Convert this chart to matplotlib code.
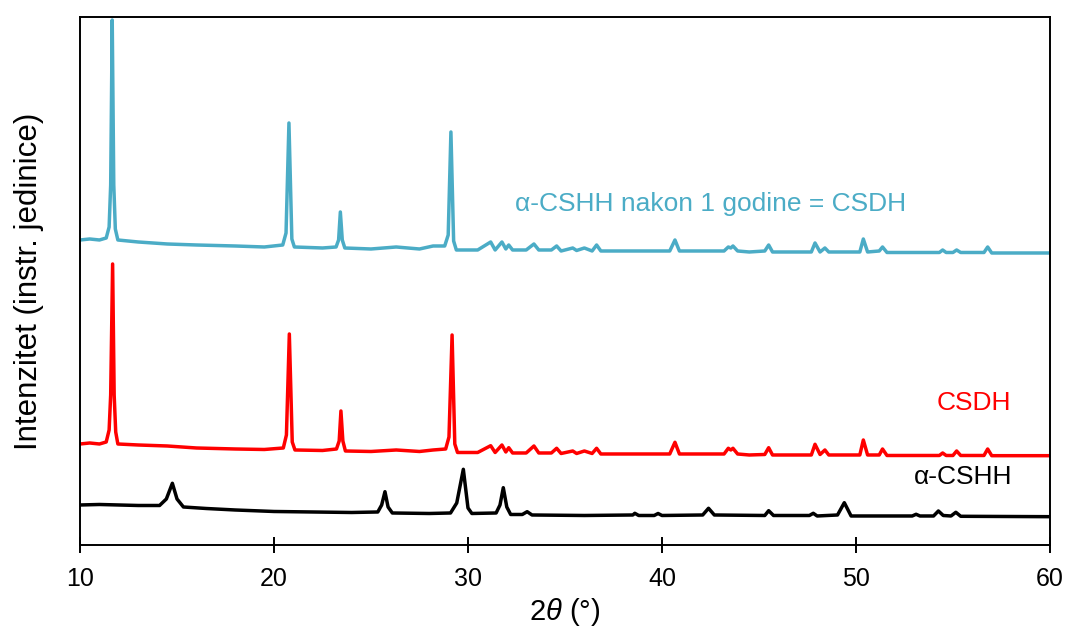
import numpy as np
import matplotlib
matplotlib.use("Agg")
import matplotlib.pyplot as plt

# XRD patterns (2theta in deg, intensity in arb. units incl. stacking offset)
aged_2theta = [10.0, 10.5, 11.0, 11.35, 11.5, 11.58, 11.66, 11.74, 11.82, 11.95, 13.0, 14.5, 16.0,
               18.0, 19.5, 20.45, 20.62, 20.77, 20.92, 21.05, 22.5, 23.2, 23.33, 23.42, 23.52, 23.65,
               25.0, 26.3, 27.5, 28.2, 28.8, 28.98, 29.12, 29.26, 29.4, 30.5, 31.17, 31.4, 31.75,
               31.95, 32.1, 32.3, 33.0, 33.4, 33.65, 34.3, 34.57, 34.8, 35.4, 35.6, 36.0, 36.4,
               36.63, 36.85, 40.4, 40.67, 40.9, 43.2, 43.42, 43.55, 43.66, 43.9, 44.5, 45.3, 45.5,
               45.7, 47.7, 47.89, 48.15, 48.4, 48.6, 50.2, 50.38, 50.6, 51.2, 51.37, 51.6, 54.3,
               54.47, 54.65, 55.0, 55.19, 55.4, 56.6, 56.79, 57.0, 60.0]
aged_int = [305, 306, 305, 307, 318, 360, 525, 360, 316, 305, 303, 301, 300,
            299, 298, 300, 312, 422, 306, 298, 297, 298, 305, 333, 305, 297,
            296, 298, 296, 299, 299, 310, 413, 304, 295, 295, 303, 295, 303,
            296, 300, 295, 295, 301, 295, 295, 299, 294, 297, 294.5, 297, 294,
            300, 294, 294, 305, 294, 294, 298, 297, 299, 294, 293, 294, 300,
            293, 293, 302, 293, 297, 293, 293, 306, 293, 294, 298, 292.5, 292.5,
            295, 292.5, 292.5, 295, 292.5, 292.5, 298, 292, 292]

csdh_2theta = [10.0, 10.5, 11.0, 11.35, 11.5, 11.58, 11.68, 11.76, 11.84, 11.95, 13.0, 14.5, 16.0,
               18.0, 19.5, 20.48, 20.64, 20.79, 20.94, 21.08, 22.5, 23.22, 23.36, 23.45, 23.55, 23.68,
               25.0, 26.3, 27.5, 28.2, 28.85, 29.02, 29.18, 29.32, 29.46, 30.5, 31.17, 31.4, 31.75,
               31.95, 32.1, 32.3, 33.0, 33.4, 33.65, 34.3, 34.57, 34.8, 35.4, 35.6, 36.0, 36.4,
               36.63, 36.85, 40.4, 40.67, 40.9, 43.2, 43.42, 43.55, 43.66, 43.9, 44.5, 45.3, 45.5,
               45.7, 47.7, 47.89, 48.15, 48.4, 48.6, 50.2, 50.38, 50.6, 51.2, 51.37, 51.6, 54.3,
               54.47, 54.65, 55.0, 55.19, 55.4, 56.6, 56.79, 57.0, 60.0]
csdh_int = [101, 102, 101, 103, 115, 150, 281, 150, 113, 101, 100, 99, 97,
            96, 95.5, 97, 110, 211, 103, 95, 94.5, 96, 104, 134, 104, 94,
            93.5, 95, 93.5, 95, 96, 108, 210, 101, 92.5, 92.5, 99.3, 92.5, 100,
            93, 97.3, 92, 92, 99, 92, 92, 96.7, 91.5, 94, 91.5, 94, 91.5,
            96.7, 91, 91, 102.7, 91, 91, 96.7, 95, 96.7, 91, 90, 90.5, 97.3,
            90, 90, 100.7, 90.5, 95, 90, 90, 105, 90, 90, 96, 89.5, 89.5,
            92, 89.5, 89.5, 94, 89.5, 89.5, 96, 89.3, 89.3]

cshh_2theta = [10.0, 11.0, 12.0, 13.0, 14.1, 14.45, 14.76, 15.0, 15.33, 16.5, 18.0, 20.0, 22.0,
               24.0, 25.35, 25.55, 25.72, 25.88, 26.1, 28.0, 29.1, 29.42, 29.76, 30.0, 30.2, 31.45,
               31.65, 31.82, 32.0, 32.2, 32.8, 33.05, 33.3, 36.0, 38.5, 38.6, 38.8, 39.6, 39.8,
               40.0, 42.1, 42.4, 42.7, 45.3, 45.5, 45.75, 47.6, 47.8, 48.0, 49.05, 49.4, 49.75,
               52.9, 53.1, 53.3, 54.0, 54.25, 54.5, 54.9, 55.15, 55.4, 60.0]
cshh_int = [40, 40.5, 40, 39.5, 39.5, 46, 61.7, 46, 38, 36.5, 35, 33.5, 33,
            32.5, 33, 40, 53.3, 38, 32, 31.5, 32, 42, 75.7, 37, 31.5, 32,
            40, 57.3, 38, 30.5, 30.5, 33.3, 30, 29.5, 30, 31.7, 29.5, 29.5, 31.5,
            29.5, 30, 36.7, 30, 29.5, 34.3, 29.5, 29.5, 31.7, 29, 30, 42.3, 29,
            29, 30.7, 29, 29, 34, 29.5, 29, 32.7, 28.7, 28.3]

labels = ["α-CSHH nakon 1 godine = CSDH", "CSDH", "α-CSHH"]
colors = ["#4BACC6", "#FF0000", "#000000"]
x_ticks = [10, 20, 30, 40, 50, 60]

plt.rcParams["font.family"] = ["Liberation Sans", "DejaVu Sans"]
plt.rcParams["mathtext.fontset"] = "custom"
plt.rcParams["mathtext.rm"] = "Liberation Sans"
plt.rcParams["mathtext.it"] = "Liberation Sans:italic"

fig = plt.figure(figsize=(10.67, 6.34), dpi=100)
ax = fig.add_axes([0.075, 0.1404, 0.909, 0.8328])

series = [(aged_2theta, aged_int), (csdh_2theta, csdh_int), (cshh_2theta, cshh_int)]
for (x, y), c in zip(series, colors):
    ax.plot(x, y, color=c, lw=2.5, solid_joinstyle="round")

ax.text(42.5, 341, labels[0], color=colors[0], fontsize=19, ha="center", va="center")
ax.text(56.1, 142, labels[1], color=colors[1], fontsize=19, ha="center", va="center")
ax.text(55.5, 68, labels[2], color=colors[2], fontsize=19, ha="center", va="center")

ax.set_xlim(10, 60)
ax.set_ylim(0, 528)
ax.set_xticks(x_ticks)
ax.set_yticks([])
ax.tick_params(axis="x", direction="inout", length=11, width=1.4, labelsize=18, pad=10)
for s in ax.spines.values():
    s.set_linewidth(1.4)
ax.set_xlabel("$2\\theta$ (°)", fontsize=21, labelpad=4)
ax.set_ylabel("Intenzitet (instr. jedinice)", fontsize=22.5, labelpad=26)

fig.savefig("out.png", dpi=100)
